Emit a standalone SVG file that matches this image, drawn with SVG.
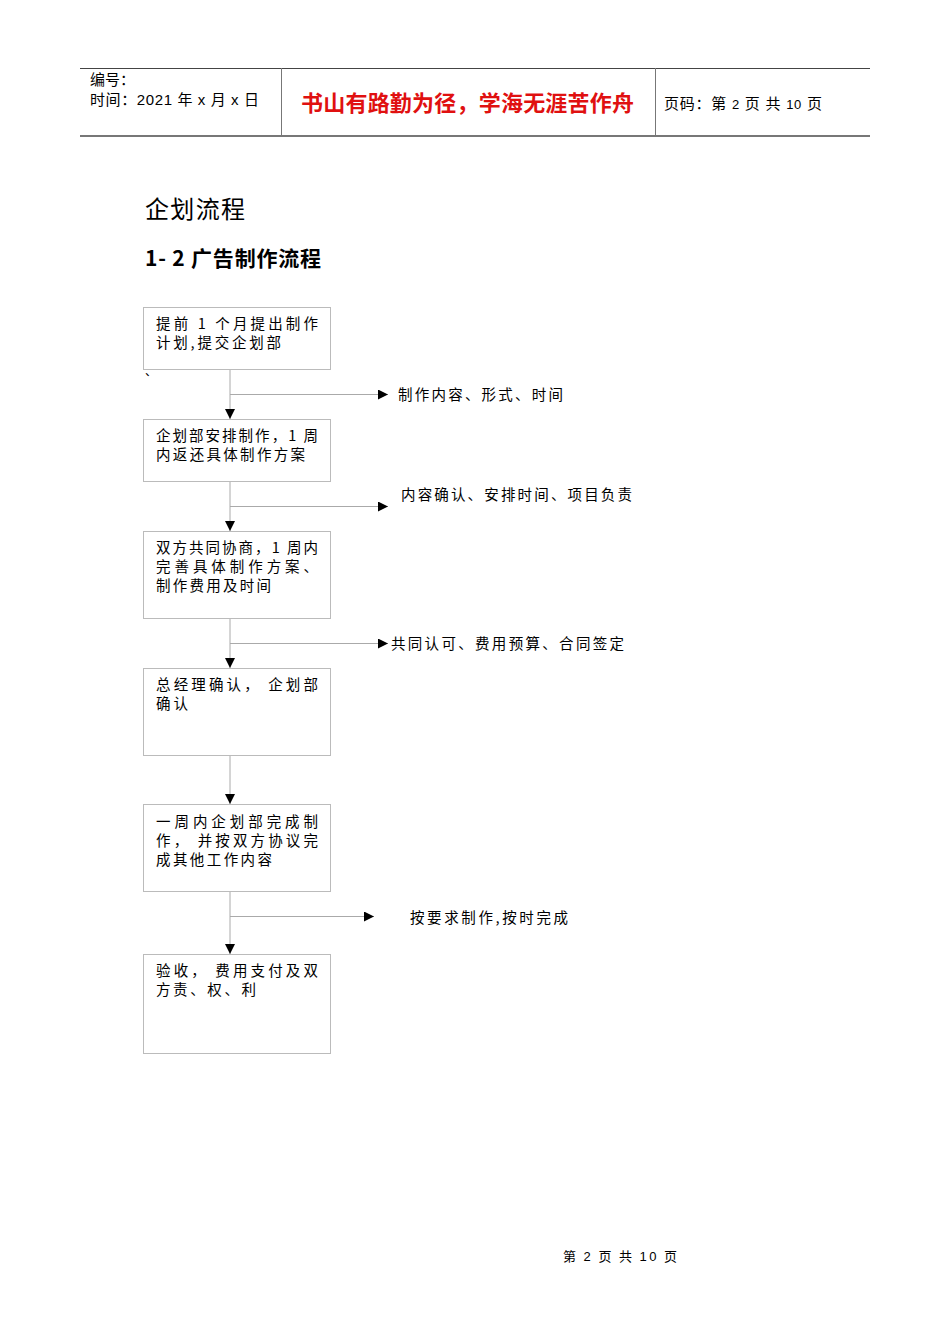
<svg xmlns="http://www.w3.org/2000/svg" width="950" height="1344" viewBox="0 0 950 1344">
<defs>
<style>
.t{font-family:"Noto Sans CJK SC","Liberation Serif",serif;fill:#000}
.hd{font-family:"Liberation Sans","Noto Sans CJK SC",sans-serif;font-size:15px;fill:#000}
.box{fill:#fff;stroke:#bbb;stroke-width:1}
.bx{font-family:"Noto Sans CJK SC","Liberation Serif",serif;font-size:14.5px;fill:#000}
.ln{stroke:#aaa;stroke-width:1;fill:none}
</style>
<marker id="ah" viewBox="0 0 10 10" refX="10" refY="5" markerWidth="10" markerHeight="10" markerUnits="userSpaceOnUse" orient="auto">
<path d="M0,0 L10,5 L0,10 Z" fill="#000"/>
</marker>
</defs>
<rect width="950" height="1344" fill="#fff"/>
<g id="header">
<line x1="80" y1="68.5" x2="870" y2="68.5" stroke="#444" stroke-width="1"/>
<line x1="80" y1="136" x2="870" y2="136" stroke="#777" stroke-width="2"/>
<line x1="281.5" y1="68" x2="281.5" y2="136" stroke="#777" stroke-width="1"/>
<line x1="655.5" y1="68" x2="655.5" y2="136" stroke="#777" stroke-width="1"/>
<text class="hd" x="90" y="85">编号：</text>
<text class="hd" x="90" y="105" textLength="169" lengthAdjust="spacing">时间：2021 年 x 月 x 日</text>
<text x="301" y="111" font-family="Noto Sans CJK SC, sans-serif" font-size="22" font-weight="bold" fill="#e01010" textLength="333" lengthAdjust="spacing">书山有路勤为径，学海无涯苦作舟</text>
<text class="hd" x="664" y="109" textLength="158" lengthAdjust="spacing">页码：第 <tspan font-size="13">2</tspan> 页  共 <tspan font-size="13">10</tspan> 页</text>
</g>
<text class="t" x="145" y="218" font-size="24" textLength="100" lengthAdjust="spacing">企划流程</text>
<text class="t" x="145" y="266" font-size="21" font-weight="bold" textLength="176" lengthAdjust="spacing">1- 2 广告制作流程</text>
<text class="t" x="145" y="376" font-size="12">、</text>
<g id="connectors">
<line class="ln" x1="230" y1="369" x2="230" y2="419" marker-end="url(#ah)"/>
<line class="ln" x1="230" y1="394.5" x2="388" y2="394.5" marker-end="url(#ah)"/>
<line class="ln" x1="230" y1="481" x2="230" y2="531" marker-end="url(#ah)"/>
<line class="ln" x1="230" y1="506.5" x2="388" y2="506.5" marker-end="url(#ah)"/>
<line class="ln" x1="230" y1="618" x2="230" y2="668" marker-end="url(#ah)"/>
<line class="ln" x1="230" y1="643.5" x2="388" y2="643.5" marker-end="url(#ah)"/>
<line class="ln" x1="230" y1="755" x2="230" y2="804" marker-end="url(#ah)"/>
<line class="ln" x1="230" y1="891" x2="230" y2="954" marker-end="url(#ah)"/>
<line class="ln" x1="230" y1="916.5" x2="374" y2="916.5" marker-end="url(#ah)"/>
</g>
<g id="labels">
<text class="bx" x="398" y="400" textLength="165" lengthAdjust="spacing">制作内容、形式、时间</text>
<text class="bx" x="401" y="500" textLength="231" lengthAdjust="spacing">内容确认、安排时间、项目负责</text>
<text class="bx" x="391" y="649" textLength="233" lengthAdjust="spacing">共同认可、费用预算、合同签定</text>
<text class="bx" x="410" y="923" textLength="158" lengthAdjust="spacing">按要求制作,按时完成</text>
</g>
<g id="n1">
<rect class="box" x="143.5" y="307.5" width="187" height="62"/>
<text class="bx" x="156" y="329" textLength="162" lengthAdjust="spacing">提前 1 个月提出制作</text>
<text class="bx" x="156" y="348" textLength="125" lengthAdjust="spacing">计划,提交企划部</text>
</g>
<g id="n2">
<rect class="box" x="143.5" y="419.5" width="187" height="62"/>
<text class="bx" x="156" y="441" textLength="162" lengthAdjust="spacing">企划部安排制作，1 周</text>
<text class="bx" x="156" y="460" textLength="149" lengthAdjust="spacing">内返还具体制作方案</text>
</g>
<g id="n3">
<rect class="box" x="143.5" y="531.5" width="187" height="87"/>
<text class="bx" x="156" y="553" textLength="162" lengthAdjust="spacing">双方共同协商，1 周内</text>
<text class="bx" x="156" y="572" textLength="162" lengthAdjust="spacing">完善具体制作方案、</text>
<text class="bx" x="156" y="591" textLength="115" lengthAdjust="spacing">制作费用及时间</text>
</g>
<g id="n4">
<rect class="box" x="143.5" y="668.5" width="187" height="87"/>
<text class="bx" x="156" y="690" textLength="162" lengthAdjust="spacing">总经理确认， 企划部</text>
<text class="bx" x="156" y="709" textLength="32" lengthAdjust="spacing">确认</text>
</g>
<g id="n5">
<rect class="box" x="143.5" y="804.5" width="187" height="87"/>
<text class="bx" x="156" y="827" textLength="162" lengthAdjust="spacing">一周内企划部完成制</text>
<text class="bx" x="156" y="846" textLength="162" lengthAdjust="spacing">作， 并按双方协议完</text>
<text class="bx" x="156" y="865" textLength="116" lengthAdjust="spacing">成其他工作内容</text>
</g>
<g id="n6">
<rect class="box" x="143.5" y="954.5" width="187" height="99"/>
<text class="bx" x="156" y="976" textLength="162" lengthAdjust="spacing">验收， 费用支付及双</text>
<text class="bx" x="156" y="995" textLength="100" lengthAdjust="spacing">方责、权、利</text>
</g>
<text x="563" y="1261" font-family="Noto Sans CJK SC, sans-serif" font-size="13" fill="#000" textLength="114" lengthAdjust="spacing">第 <tspan font-family="Liberation Sans, sans-serif">2</tspan> 页 共 <tspan font-family="Liberation Sans, sans-serif">10</tspan> 页</text>
</svg>
